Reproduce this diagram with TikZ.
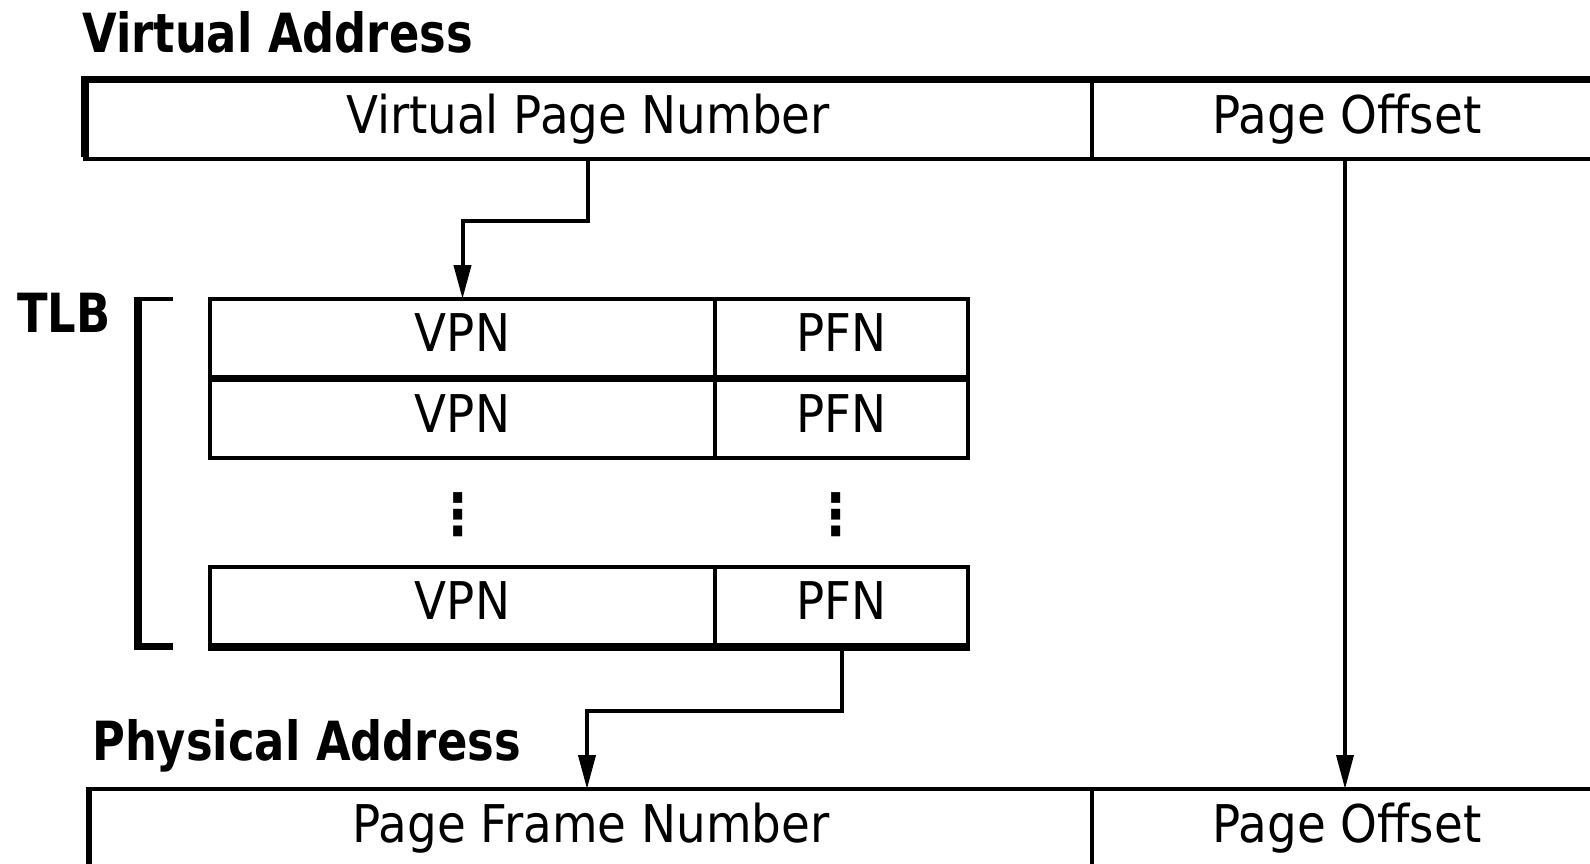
\documentclass[tikz,border=0pt]{standalone}
\usepackage{fontspec}
\newfontfamily\regf{DejaVu Sans}[FakeStretch=0.9]
\newfontfamily\bldf{DejaVu Sans}[FakeStretch=0.83]
\usetikzlibrary{arrows.meta}
\tikzset{
  cell/.style={draw, line width=4pt, inner sep=0pt, outer sep=0pt},
  lbl/.style={font=\regf\fontsize{52pt}{60pt}\selectfont, inner sep=0pt, anchor=base},
  ttl/.style={font=\bldf\bfseries\fontsize{54pt}{60pt}\selectfont, inner sep=0pt, anchor=base west},
  vdots/.style={font=\regf\bfseries\fontsize{57pt}{60pt}\selectfont, inner sep=0pt, anchor=center},
  conn/.style={line width=4pt, -{Triangle[length=34pt,width=17pt]}},
  thk/.style={line width=7.5pt},
}
\begin{document}
\begin{tikzpicture}[x=1pt,y=-1pt]
\useasboundingbox (0,0) rectangle (1590,863);
\clip (0,0) rectangle (1590,863);

% titles
\node[ttl] (vaT) at (82,52) {Virtual Address};
\node[ttl] (tlbT) at (17,332) {TLB};
\node[ttl] (paT) at (92,760) {Physical Address};

% virtual address box
\node[cell, minimum width=1007.5pt, minimum height=79.5pt] (va1) at (588.25,119.25) {};
\node[cell, minimum width=510pt, minimum height=79.5pt] (va2) at (1347,119.25) {};
\draw[thk] ([xshift=-4pt]va1.north west) -- (va2.north east);
\draw[line width=8pt] ([yshift=2pt]va1.south west) -- ([yshift=3.75pt]va1.north west);
\node[lbl] (vaL1) at (588,133) {Virtual Page Number};
\node[lbl] (vaL2) at (1347,133) {Page Offset};

% TLB rows
\node[cell, minimum width=505pt, minimum height=79.5pt] (r1a) at (462.5,338.75) {};
\node[cell, minimum width=253pt, minimum height=79.5pt] (r1b) at (841.5,338.75) {};
\node[cell, minimum width=505pt, minimum height=79pt] (r2a) at (462.5,418) {};
\node[cell, minimum width=253pt, minimum height=79pt] (r2b) at (841.5,418) {};
\node[cell, minimum width=505pt, minimum height=80.5pt] (r3a) at (462.5,606.75) {};
\node[cell, minimum width=253pt, minimum height=80.5pt] (r3b) at (841.5,606.75) {};
\draw[thk] ([xshift=-2pt]r1a.south west) -- ([xshift=2pt]r1b.south east);
\draw[thk] ([xshift=-2pt]r3a.south west) -- ([xshift=2pt]r3b.south east);
\node[lbl] (v1) at (r1a.center |- 0,351) {VPN};
\node[lbl] (p1) at (r1b.center |- 0,351) {PFN};
\node[lbl] (v2) at (r2a.center |- 0,432) {VPN};
\node[lbl] (p2) at (r2b.center |- 0,432) {PFN};
\node[lbl] (v3) at (r3a.center |- 0,619) {VPN};
\node[lbl] (p3) at (r3b.center |- 0,619) {PFN};
\node[vdots] (d1) at (458.5,514.5) {⋮};
\node[vdots] (d2) at (836,514.5) {⋮};

% bracket
\coordinate (bt) at (138,297);
\coordinate (bb) at (138,650);
\draw[line width=8pt] (bt) -- (bb);
\draw[line width=4pt] (134,299) -- (173,299);
\draw[line width=7pt] (134,646.5) -- (173,646.5);

% physical address box
\node[cell, minimum width=1003pt, minimum height=81pt] (pa1) at (590.5,829.5) {};
\node[cell, minimum width=510pt, minimum height=81pt] (pa2) at (1347,829.5) {};
\draw[line width=6pt] (pa1.south west) -- ([yshift=2pt]pa1.north west);
\node[lbl] (paL1) at (591,842) {Page Frame Number};
\node[lbl] (paL2) at (1347,842) {Page Offset};

% connectors
\draw[conn] (va1.south) -- ++(0,62) -| (r1a.north);
\draw[conn] (r3b.south) -- ++(0,64) -| ([xshift=-3.5pt]pa1.north);
\draw[conn, line width=3.5pt] ([xshift=-2pt]va2.south) -- ([xshift=-2pt]pa2.north);
\end{tikzpicture}
\end{document}
